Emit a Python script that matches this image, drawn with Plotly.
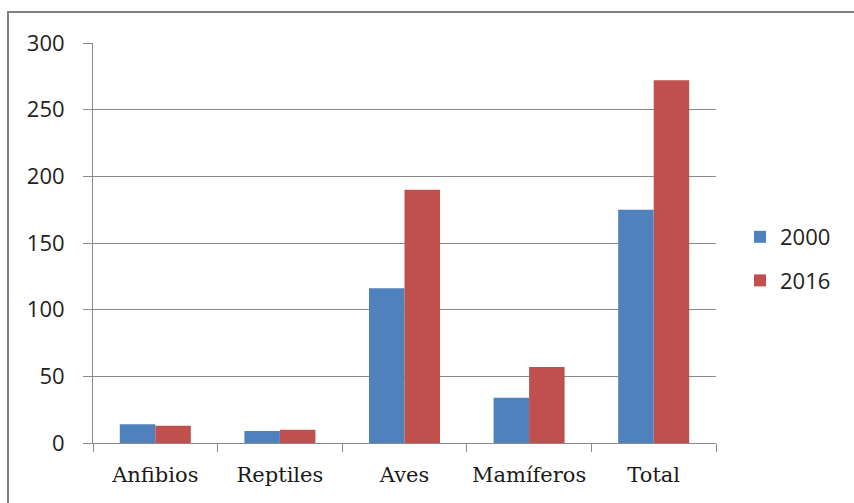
import plotly.graph_objects as go

categories = ["Anfibios", "Reptiles", "Aves", "Mamíferos", "Total"]
series_names = ["2000", "2016"]
values_2000 = [14, 9, 116, 34, 175]
values_2016 = [13, 10, 190, 57, 272]
y_ticks = [0, 50, 100, 150, 200, 250, 300]

colors = ["#4F81BD", "#C0504D"]

fig = go.Figure()
for name, vals, col in zip(series_names, [values_2000, values_2016], colors):
    fig.add_trace(go.Bar(x=categories, y=vals, name=name, legendgroup=name,
                         marker=dict(color=col, line=dict(width=0))))

W, H = 854, 503
L, R, T, B = 93, 138, 43, 60
pw = W - L - R
ph = H - T - B

fig.update_layout(
    width=W, height=H,
    margin=dict(l=L, r=R, t=T, b=B, autoexpand=False),
    paper_bgcolor="white", plot_bgcolor="white",
    barmode="group", bargap=0.43, bargroupgap=0,
    showlegend=True,
    legend=dict(x=(740 - L) / pw, y=(443 - 259) / ph, xanchor="left", yanchor="middle",
                font=dict(family="Open Sans", size=22, color="#222222"),
                tracegroupgap=12, itemwidth=30, bgcolor="rgba(0,0,0,0)"),
    font=dict(family="Open Sans", color="#222222"),
)

fig.update_yaxes(range=[0, 300], tickvals=y_ticks, showgrid=True, gridcolor="#8a8a8a", gridwidth=1,
                 showline=True, linecolor="#8a8a8a", linewidth=1,
                 ticks="outside", ticklen=9, tickcolor="#8a8a8a",
                 tickfont=dict(family="Open Sans", size=22, color="#222222"),
                 ticklabelstandoff=14, zeroline=False, automargin=False)
fig.update_xaxes(showline=True, linecolor="#8a8a8a", linewidth=1,
                 ticks="outside", ticklen=8, tickcolor="#8a8a8a", tickson="boundaries",
                 tickfont=dict(family="DejaVu Serif", size=21, color="#1a1a1a"),
                 ticklabelstandoff=13, showgrid=False, automargin=False)

# outer chart border
fig.add_shape(type="rect", xref="paper", yref="paper",
              x0=(8 - L) / pw, x1=(W + 5 - L) / pw,
              y0=(H - B - (H + 5)) / ph, y1=(H - B - 12) / ph,
              line=dict(color="#7f7f7f", width=2), fillcolor="rgba(0,0,0,0)", layer="below")

fig.write_html("out.html", config={"displayModeBar": False},
               post_script="document.body.style.margin='0';document.body.style.overflow='hidden';")
